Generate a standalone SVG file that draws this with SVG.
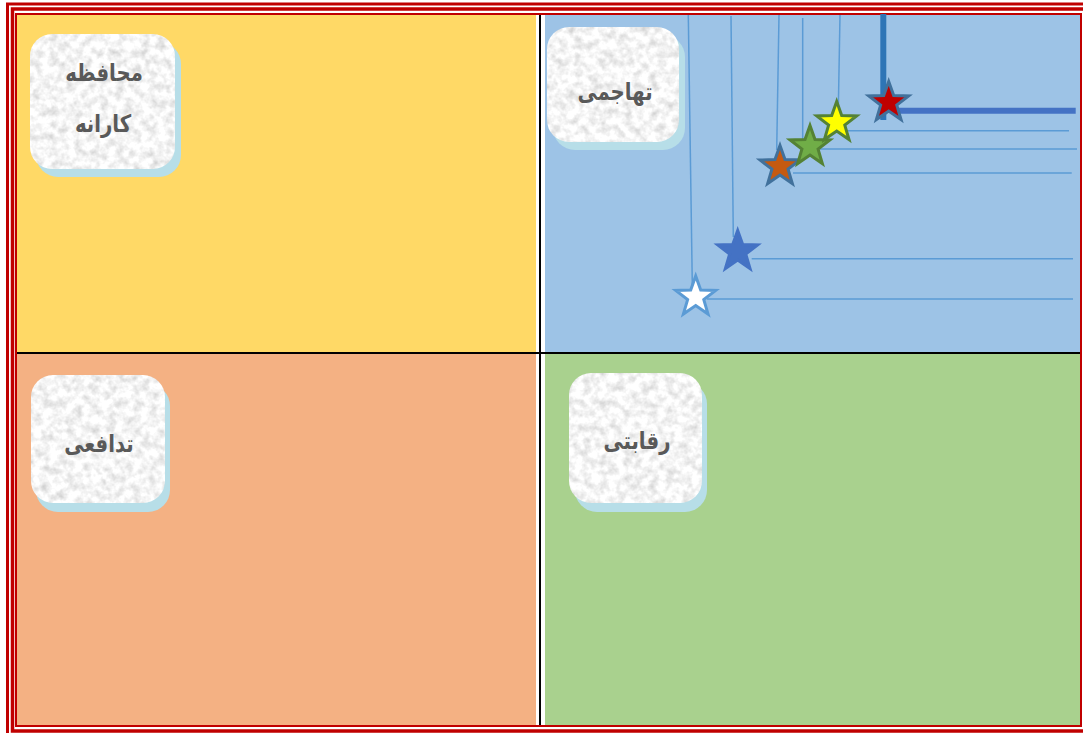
<svg xmlns="http://www.w3.org/2000/svg" xmlns:xlink="http://www.w3.org/1999/xlink" width="1083" height="733" viewBox="0 0 1083 733">
  <style>
    .frame { fill: none; stroke: #C00000; }
    .divider { stroke: #000000; stroke-width: 2; fill: none; }
    .shadow { fill: #B7DEE8; }
    .box { fill: #F2F2F2; }
    .label { font-family: "DejaVu Sans", "Noto Sans", sans-serif; font-weight: bold; font-size: 24px; fill: #595959; text-anchor: middle; }
    .thin { stroke: #5B9BD5; stroke-width: 1.5; fill: none; }
    .thick-v { stroke: #2E75B6; stroke-width: 6; fill: none; }
    .thick-h { stroke: #4472C4; stroke-width: 6; fill: none; }
    .star { stroke-width: 3; stroke-linejoin: miter; }
  </style>
  <defs>
    <filter id="marble" x="0" y="0" width="100%" height="100%" color-interpolation-filters="sRGB">
      <feTurbulence type="fractalNoise" baseFrequency="0.12" numOctaves="3" seed="7" result="n"/>
      <feColorMatrix in="n" type="matrix" values="0.34 0 0 0 0.79  0.34 0 0 0 0.79  0.34 0 0 0 0.79  0 0 0 0 1" result="g"/>
      <feGaussianBlur in="g" stdDeviation="0.5" result="b"/>
      <feComposite in="b" in2="SourceGraphic" operator="in"/>
    </filter>
    <path id="star" d="M0,-21 L5,-6.88 L19.97,-6.49 L8.08,2.63 L12.34,16.99 L0,8.5 L-12.34,16.99 L-8.08,2.63 L-19.97,-6.49 L-5,-6.88 Z"/>
  </defs>

  <rect x="0" y="0" width="1083" height="733" fill="#FFFFFF"/>

  <g id="quadrants">
    <rect id="q-conservative" x="16" y="14" width="520" height="339" fill="#FFD966"/>
    <rect id="q-aggressive" x="545" y="14" width="536" height="339" fill="#9DC3E6"/>
    <rect id="q-defensive" x="16" y="353" width="520" height="373" fill="#F4B183"/>
    <rect id="q-competitive" x="545" y="353" width="536" height="373" fill="#A9D18E"/>
    <rect x="536" y="14" width="9" height="712" fill="#FFFFFF"/>
    <line class="divider" x1="540" y1="14" x2="540" y2="726"/>
    <line class="divider" x1="16" y1="353" x2="1081" y2="353"/>
  </g>

  <g id="frame">
    <rect class="frame" x="7.5" y="4" width="1100" height="740" stroke-width="3"/>
    <rect class="frame" x="12.5" y="9" width="1100" height="722" stroke-width="3.5"/>
    <rect class="frame" x="16" y="14" width="1065" height="712" stroke-width="2"/>
  </g>

  <g id="node-conservative">
    <rect class="shadow" x="36" y="42" width="145" height="135" rx="22"/>
    <rect class="box" x="30" y="34" width="145" height="135" rx="22" filter="url(#marble)"/>
    <text class="label" transform="translate(104,81) scale(0.82,1)">محافظه</text>
    <text class="label" transform="translate(103,132) scale(0.82,1)">کارانه</text>
  </g>

  <g id="node-aggressive">
    <rect class="shadow" x="553" y="35" width="132" height="115" rx="22"/>
    <rect class="box" x="547" y="27" width="132" height="115" rx="22" filter="url(#marble)"/>
    <text class="label" transform="translate(615,100) scale(0.82,1)">تهاجمی</text>
  </g>

  <g id="node-defensive">
    <rect class="shadow" x="36" y="384" width="134" height="128" rx="22"/>
    <rect class="box" x="31" y="375" width="134" height="128" rx="22" filter="url(#marble)"/>
    <text class="label" transform="translate(99,452) scale(0.82,1)">تدافعی</text>
  </g>

  <g id="node-competitive">
    <rect class="shadow" x="575" y="382" width="132" height="130" rx="22"/>
    <rect class="box" x="569" y="373" width="133" height="130" rx="22" filter="url(#marble)"/>
    <text class="label" transform="translate(637,449) scale(0.82,1)">رقابتی</text>
  </g>

  <g id="connectors">
    <line class="thin" x1="688.3" y1="15" x2="692.3" y2="285"/>
    <line class="thin" x1="707" y1="299" x2="1073" y2="299"/>
    <line class="thin" x1="731" y1="16" x2="733.3" y2="237"/>
    <line class="thin" x1="751.7" y1="258.7" x2="1073" y2="258.7"/>
    <line class="thin" x1="779" y1="15" x2="776.7" y2="150"/>
    <line class="thin" x1="793" y1="173" x2="1071.7" y2="173"/>
    <line class="thin" x1="802.7" y1="18" x2="802.7" y2="140"/>
    <line class="thin" x1="820" y1="149" x2="1077" y2="149"/>
    <line class="thin" x1="840" y1="15" x2="838.3" y2="110"/>
    <line class="thin" x1="848" y1="130.7" x2="1069" y2="130.7"/>
    <line class="thick-v" x1="883.3" y1="14" x2="883.3" y2="120"/>
    <line class="thick-h" x1="893" y1="110.7" x2="1075.7" y2="110.7"/>
  </g>

  <g id="star-white"><use xlink:href="#star" class="star" transform="translate(695.7,297)" fill="#FFFFFF" stroke="#5B9BD5"/></g>
  <g id="star-blue"><use xlink:href="#star" class="star" transform="translate(737.7,251.5)" fill="#4472C4" stroke="#4472C4" stroke-width="1"/></g>
  <g id="star-orange"><use xlink:href="#star" class="star" transform="translate(780,166.5)" fill="#C55A11" stroke="#41719C"/></g>
  <g id="star-green"><use xlink:href="#star" class="star" transform="translate(810,146.5)" fill="#70AD47" stroke="#548235"/></g>
  <g id="star-yellow"><use xlink:href="#star" class="star" transform="translate(836.7,122.5)" fill="#FFFF00" stroke="#548235"/></g>
  <g id="star-red"><use xlink:href="#star" class="star" transform="translate(888.7,102.5)" fill="#C00000" stroke="#41719C"/></g>
</svg>
